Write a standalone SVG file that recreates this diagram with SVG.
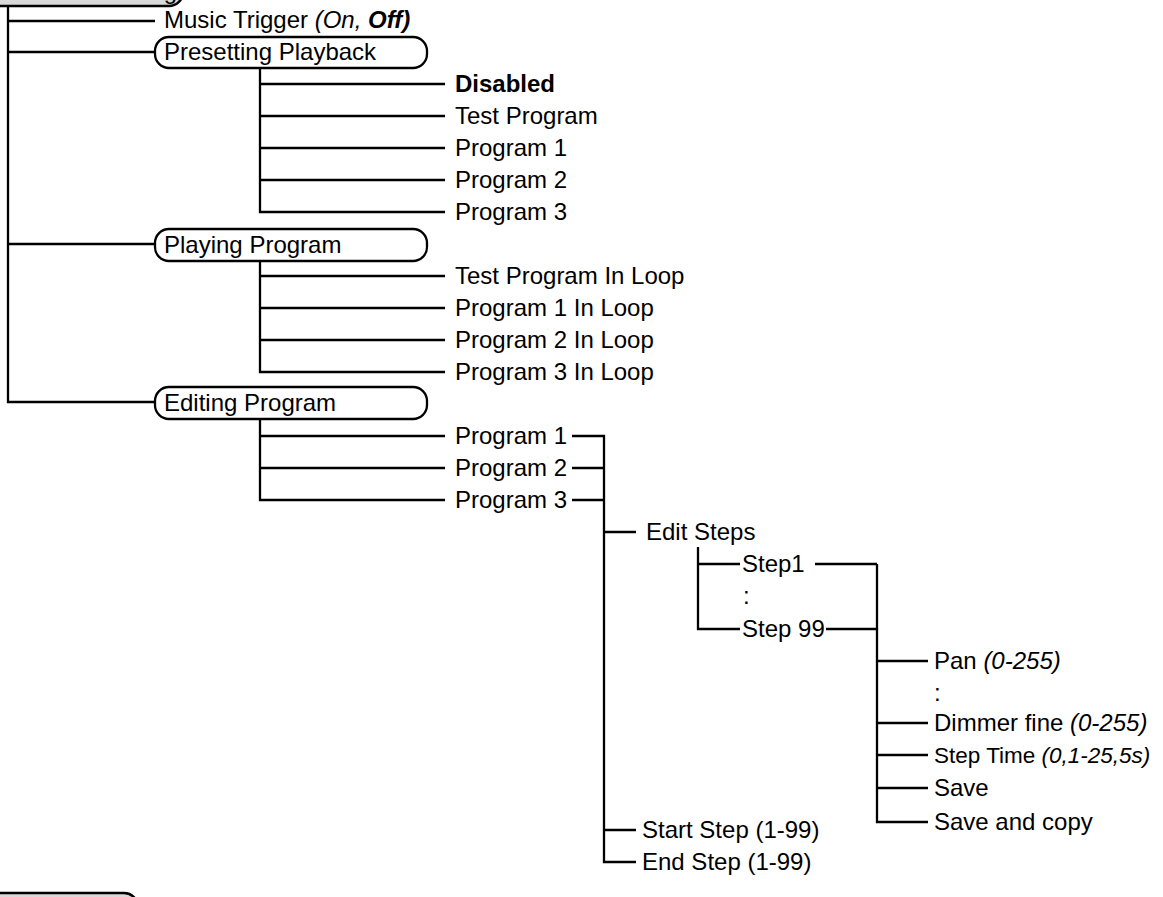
<svg xmlns="http://www.w3.org/2000/svg" width="1163" height="897" viewBox="0 0 1163 897">
<style>
text{font-family:"Liberation Sans",Arial,sans-serif;font-size:24px;fill:#000}
.b{font-weight:bold}
.i{font-style:italic}
.ln{stroke:#000;stroke-width:2.3;fill:none}
.box{fill:#fff;stroke:#000;stroke-width:2.3}
.gbox{fill:#d9d9d9;stroke:#000;stroke-width:2.5}
.sm{font-size:22.5px}
</style>
<rect width="1163" height="897" fill="#fff"/>
<g id="connectors" class="ln">
<path d="M8 6V402H155"/>
<path d="M8 21H155M8 52H155M8 244H155"/>
<path d="M260 68V212H445M260 84H445M260 116H445M260 148H445M260 180H445"/>
<path d="M260 261V372H445M260 276H445M260 308H445M260 340H445"/>
<path d="M260 419V500H445M260 436H445M260 468H445"/>
<path d="M572 436H604V862H636M572 468H604M572 500H604M604 532H636M604 830H636"/>
<path d="M698 547V629H740M698 564H740M815 564H877M826 629H877"/>
<path d="M877 564V822H928M877 661H928M877 723H928M877 755H928M877 788H928"/>
</g>
<g id="top-node">
<rect class="gbox" x="-20" y="-30" width="203" height="36" rx="14"/>
<text x="177" y="-1" text-anchor="end">g</text>
</g>
<g id="music-trigger"><text x="164" y="28">Music Trigger <tspan class="i">(On, </tspan><tspan class="i b">Off)</tspan></text></g>
<g id="presetting-playback">
<rect class="box" x="155" y="37" width="272" height="31" rx="14"/>
<text x="164" y="60">Presetting Playback</text>
</g>
<g id="pp-disabled"><text class="b" x="455" y="92">Disabled</text></g>
<g id="pp-test"><text x="455" y="124">Test Program</text></g>
<g id="pp-p1"><text x="455" y="156">Program 1</text></g>
<g id="pp-p2"><text x="455" y="188">Program 2</text></g>
<g id="pp-p3"><text x="455" y="220">Program 3</text></g>
<g id="playing-program">
<rect class="box" x="155" y="229" width="272" height="32" rx="14"/>
<text x="164" y="253">Playing Program</text>
</g>
<g id="pl-test"><text x="455" y="284">Test Program In Loop</text></g>
<g id="pl-p1"><text x="455" y="316">Program 1 In Loop</text></g>
<g id="pl-p2"><text x="455" y="348">Program 2 In Loop</text></g>
<g id="pl-p3"><text x="455" y="380">Program 3 In Loop</text></g>
<g id="editing-program">
<rect class="box" x="155" y="387" width="272" height="32" rx="14"/>
<text x="164" y="411">Editing Program</text>
</g>
<g id="ep-p1"><text x="455" y="444">Program 1</text></g>
<g id="ep-p2"><text x="455" y="476">Program 2</text></g>
<g id="ep-p3"><text x="455" y="508">Program 3</text></g>
<g id="edit-steps"><text x="646" y="540">Edit Steps</text></g>
<g id="step1"><text x="742" y="572">Step1</text></g>
<g id="step-dots"><text x="743" y="604">:</text></g>
<g id="step99"><text x="742" y="637">Step 99</text></g>
<g id="pan"><text x="934" y="669">Pan <tspan class="i">(0-255)</tspan></text></g>
<g id="param-dots"><text x="934" y="701">:</text></g>
<g id="dimmer-fine"><text x="934" y="731">Dimmer fine <tspan class="i">(0-255)</tspan></text></g>
<g id="step-time"><text class="sm" x="934" y="763">Step Time <tspan class="i">(0,1-25,5s)</tspan></text></g>
<g id="save"><text x="934" y="796">Save</text></g>
<g id="save-copy"><text x="934" y="830">Save and copy</text></g>
<g id="start-step"><text x="642" y="838">Start Step (1-99)</text></g>
<g id="end-step"><text x="642" y="870">End Step (1-99)</text></g>
<g id="bottom-node">
<rect class="gbox" x="-20" y="893" width="158" height="40" rx="14"/>
</g>
</svg>
